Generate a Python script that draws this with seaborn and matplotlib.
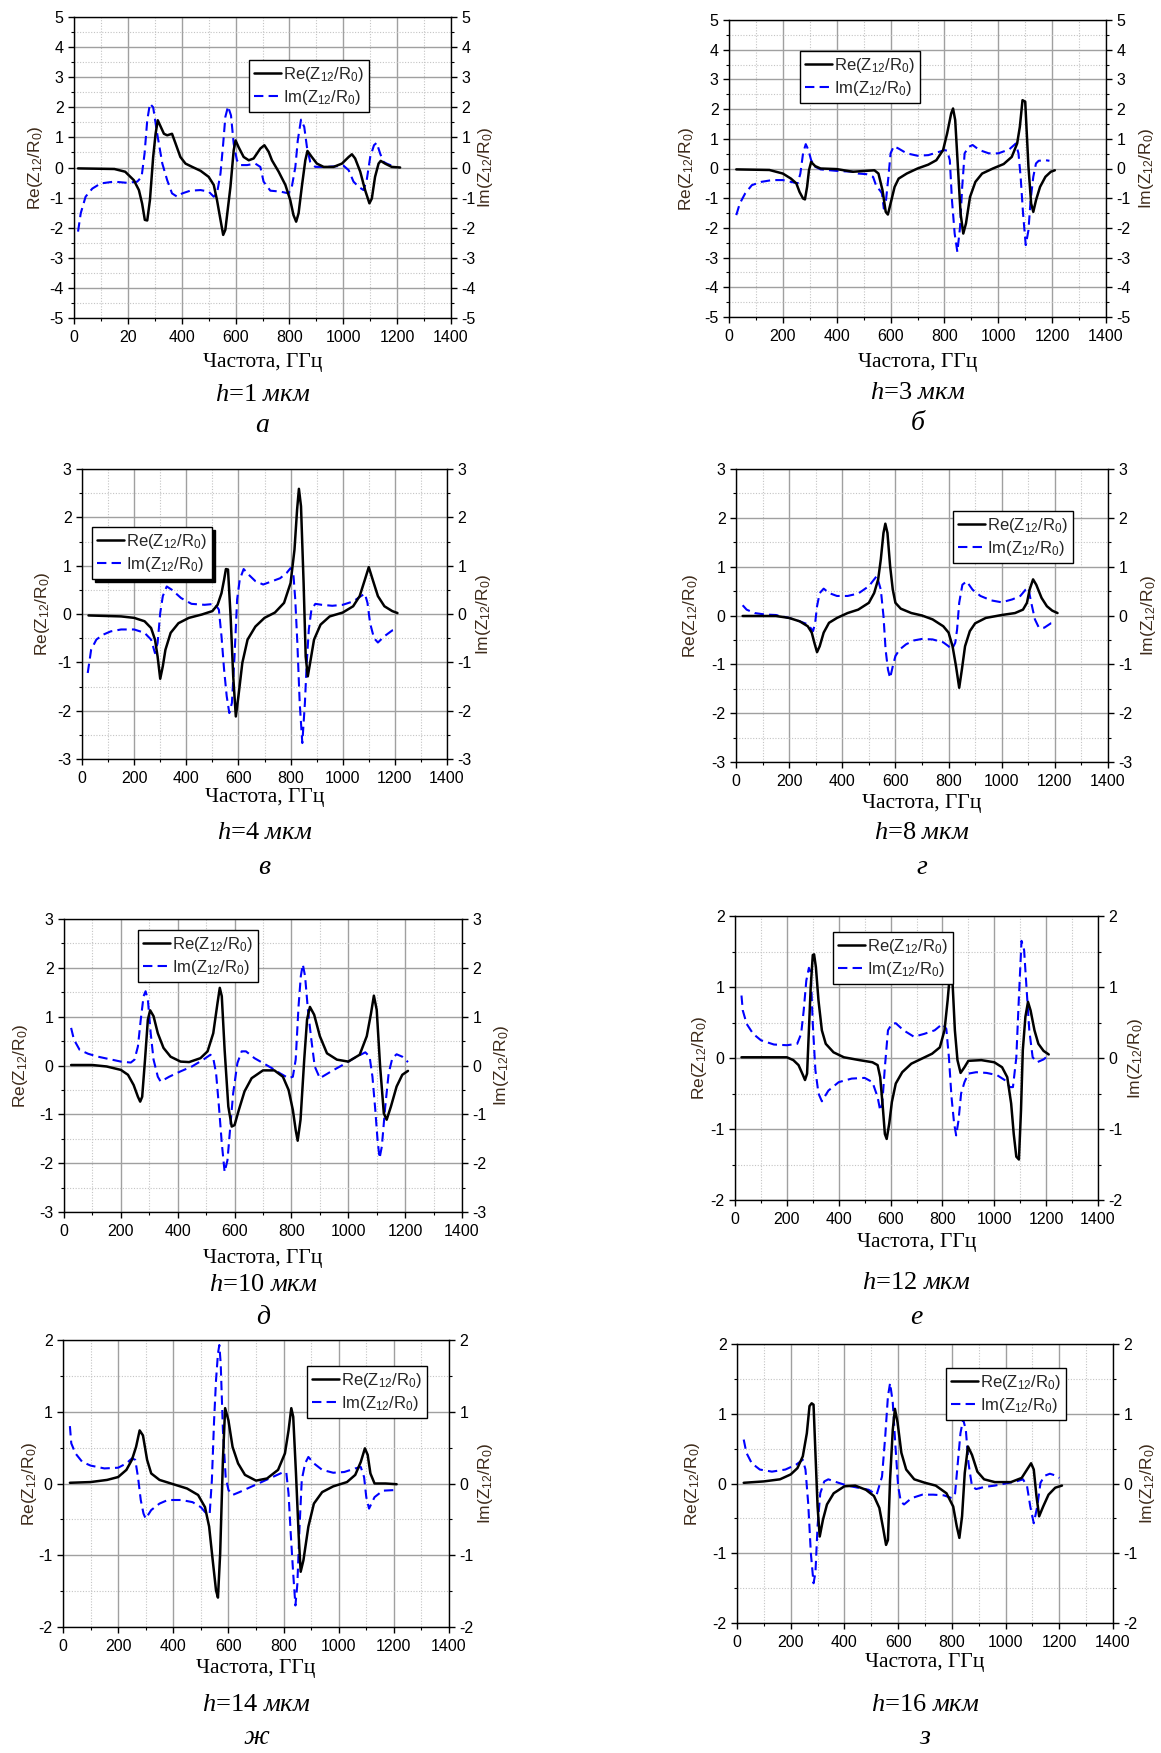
import numpy as np
import pandas as pd
import matplotlib
matplotlib.use("Agg")
import matplotlib.pyplot as plt
import seaborn as sns
from matplotlib.ticker import MultipleLocator

# ---------------- data ----------------
# panel а, h=1
a_re_f = [15, 150, 190, 222, 241, 253, 263, 272, 282, 294,
          303, 311, 334, 346, 364, 377, 395, 414, 439, 470,
          500, 519, 531, 544, 554, 562, 581, 593, 600, 611,
          630, 649, 667, 692, 707, 723, 735, 760, 785, 803,
          815, 825, 834, 846, 859, 867, 883, 902, 927, 964,
          995, 1020, 1032, 1044, 1063, 1081, 1097, 1106, 1118, 1131,
          1139, 1155, 1180, 1211]
a_re = [-0.03, -0.05, -0.14, -0.42, -0.75, -1.2, -1.74, -1.76, -1.08, 0.35,
        1.12, 1.57, 1.12, 1.07, 1.12, 0.8, 0.35, 0.13, 0.02, -0.11,
        -0.31, -0.58, -1.08, -1.74, -2.24, -2.07, -0.64, 0.57, 0.9, 0.68,
        0.35, 0.24, 0.3, 0.63, 0.74, 0.52, 0.24, -0.14, -0.58, -1.08,
        -1.58, -1.8, -1.52, -0.64, 0.24, 0.55, 0.35, 0.13, 0.02, 0.02,
        0.13, 0.35, 0.44, 0.3, -0.14, -0.75, -1.19, -1.03, -0.31, 0.13,
        0.22, 0.13, 0.02, 0.0]
a_im_f = [15, 25, 43, 68, 99, 148, 198, 235, 251, 262,
          272, 282, 294, 309, 328, 346, 364, 383, 402, 432,
          470, 500, 519, 531, 544, 554, 562, 572, 583, 593,
          605, 618, 643, 673, 692, 704, 729, 766, 797, 809,
          822, 831, 843, 855, 865, 877, 896, 939, 1001, 1020,
          1038, 1057, 1075, 1087, 1100, 1114, 1124, 1137, 1149, 1161,
          1180]
a_im = [-2.13, -1.52, -0.97, -0.7, -0.53, -0.47, -0.51, -0.47, -0.31, 0.46,
        1.57, 2.12, 2.0, 1.12, 0.13, -0.42, -0.86, -0.97, -0.86, -0.77,
        -0.75, -0.8, -0.97, -0.86, -0.2, 0.79, 1.68, 2.03, 1.73, 0.79,
        0.24, 0.08, 0.08, 0.13, 0.02, -0.47, -0.77, -0.8, -0.86, -0.64,
        0.02, 0.9, 1.59, 1.35, 0.68, 0.19, 0.02, 0.02, 0.06, -0.09,
        -0.47, -0.64, -0.75, -0.42, 0.35, 0.74, 0.82, 0.46, 0.19, 0.13,
        0.06]

# panel б, h=3
b_re_f = [27, 150, 200, 230, 250, 262, 275, 282, 290, 297,
          305, 320, 340, 400, 460, 540, 555, 570, 582, 590,
          600, 615, 630, 660, 700, 740, 770, 795, 810, 825,
          832, 840, 850, 860, 870, 880, 895, 915, 940, 980,
          1020, 1050, 1070, 1080, 1090, 1100, 1112, 1122, 1130, 1140,
          1155, 1175, 1195, 1210]
b_re = [-0.03, -0.05, -0.17, -0.34, -0.5, -0.79, -1.01, -1.04, -0.62, -0.06,
        0.22, 0.08, 0.0, -0.02, -0.11, -0.06, -0.17, -0.73, -1.46, -1.55,
        -1.18, -0.62, -0.34, -0.17, 0.0, 0.13, 0.28, 0.62, 1.18, 1.85,
        2.02, 1.63, 0.06, -1.52, -2.19, -1.85, -0.96, -0.45, -0.17, 0.0,
        0.15, 0.39, 0.84, 1.4, 2.3, 2.25, 0.06, -1.18, -1.46, -1.07,
        -0.62, -0.28, -0.11, -0.06]
b_im_f = [27, 40, 60, 85, 120, 160, 200, 230, 255, 265,
          275, 285, 295, 305, 320, 340, 400, 460, 480, 510,
          535, 548, 560, 568, 575, 583, 592, 600, 612, 630,
          660, 700, 740, 780, 800, 810, 820, 828, 838, 848,
          858, 866, 875, 890, 905, 930, 965, 1000, 1040, 1065,
          1075, 1083, 1092, 1102, 1112, 1120, 1130, 1140, 1150, 1175,
          1190]
b_im = [-1.57, -1.18, -0.84, -0.56, -0.45, -0.39, -0.39, -0.45, -0.5, -0.17,
        0.51, 0.82, 0.62, 0.28, 0.06, -0.03, -0.08, -0.11, -0.17, -0.19,
        -0.28, -0.62, -0.73, -0.84, -1.35, -1.07, -0.28, 0.51, 0.75, 0.67,
        0.51, 0.43, 0.45, 0.56, 0.62, 0.6, 0.28, -1.07, -2.19, -2.81,
        -1.97, -0.62, 0.51, 0.73, 0.79, 0.62, 0.51, 0.51, 0.64, 0.84,
        0.51, -0.28, -1.52, -2.58, -2.08, -1.07, -0.28, 0.17, 0.26, 0.28,
        0.26]

# panel в, h=4
c_re_f = [25, 150, 200, 240, 265, 280, 290, 300, 310, 320,
          340, 370, 410, 460, 500, 520, 535, 545, 552, 560,
          570, 580, 590, 600, 615, 635, 665, 700, 740, 775,
          800, 815, 825, 832, 840, 850, 858, 866, 875, 890,
          915, 950, 1000, 1040, 1065, 1085, 1100, 1115, 1135, 1160,
          1190, 1210]
c_re = [-0.03, -0.05, -0.08, -0.15, -0.29, -0.53, -0.88, -1.34, -1.08, -0.74,
        -0.39, -0.19, -0.08, -0.01, 0.06, 0.19, 0.43, 0.71, 0.93, 0.92,
        -0.05, -1.29, -2.12, -1.7, -1.01, -0.53, -0.26, -0.08, 0.03, 0.23,
        0.64, 1.33, 2.16, 2.59, 2.23, 0.64, -0.88, -1.29, -1.01, -0.53,
        -0.22, -0.05, 0.03, 0.16, 0.37, 0.71, 0.97, 0.71, 0.37, 0.16,
        0.06, 0.02]
c_im_f = [22, 35, 55, 80, 110, 150, 200, 240, 265, 280,
          290, 300, 310, 325, 345, 380, 420, 470, 510, 525,
          535, 545, 555, 565, 575, 585, 595, 605, 620, 640,
          665, 695, 730, 760, 785, 800, 810, 818, 826, 835,
          845, 855, 862, 870, 880, 895, 920, 960, 1000, 1040,
          1070, 1085, 1095, 1105, 1120, 1135, 1160, 1190, 1210]
c_im = [-1.22, -0.74, -0.53, -0.43, -0.36, -0.32, -0.32, -0.39, -0.53, -0.81,
        -0.6, 0.02, 0.37, 0.57, 0.5, 0.33, 0.21, 0.19, 0.21, 0.09,
        -0.46, -1.15, -1.7, -2.05, -1.84, -0.88, 0.3, 0.71, 0.93, 0.81,
        0.68, 0.61, 0.68, 0.74, 0.85, 0.95, 0.88, 0.3, -0.6, -1.84,
        -2.67, -1.84, -1.01, -0.32, 0.09, 0.21, 0.19, 0.17, 0.19, 0.26,
        0.37, 0.42, 0.23, -0.19, -0.5, -0.59, -0.46, -0.34, -0.32]

# panel г, h=8
d_re_f = [25, 150, 200, 240, 270, 285, 295, 305, 315, 330,
          350, 380, 420, 460, 500, 520, 535, 545, 555, 562,
          570, 580, 590, 600, 620, 660, 700, 740, 780, 800,
          815, 828, 840, 850, 862, 880, 900, 940, 1000, 1050,
          1080, 1095, 1105, 1118, 1130, 1150, 1170, 1190, 1210]
d_re = [-0.01, -0.01, -0.05, -0.12, -0.22, -0.35, -0.56, -0.75, -0.63, -0.35,
        -0.15, -0.05, 0.05, 0.12, 0.26, 0.46, 0.74, 1.15, 1.69, 1.88,
        1.69, 1.01, 0.53, 0.26, 0.14, 0.05, 0.0, -0.08, -0.22, -0.35,
        -0.63, -1.04, -1.48, -1.11, -0.63, -0.32, -0.16, -0.05, 0.01, 0.05,
        0.12, 0.26, 0.53, 0.74, 0.63, 0.36, 0.19, 0.1, 0.05]
d_im_f = [25, 40, 70, 110, 150, 200, 240, 270, 290, 298,
          305, 315, 330, 350, 380, 420, 460, 500, 530, 545,
          555, 563, 572, 580, 590, 600, 615, 640, 670, 700,
          740, 780, 800, 812, 825, 832, 840, 852, 868, 890,
          920, 960, 1000, 1040, 1070, 1090, 1100, 1110, 1125, 1140,
          1160, 1185, 1200]
d_im = [0.21, 0.12, 0.05, 0.02, 0.01, -0.05, -0.12, -0.18, -0.32, -0.15,
        0.19, 0.46, 0.55, 0.46, 0.4, 0.4, 0.45, 0.6, 0.81, 0.53,
        -0.01, -0.7, -1.11, -1.28, -1.04, -0.83, -0.7, -0.59, -0.51, -0.48,
        -0.49, -0.55, -0.63, -0.7, -0.56, -0.29, 0.26, 0.63, 0.7, 0.53,
        0.4, 0.31, 0.27, 0.33, 0.4, 0.53, 0.57, 0.29, -0.08, -0.25,
        -0.25, -0.16, -0.15]

# panel д, h=10
e_re_f = [25, 100, 150, 200, 225, 245, 260, 268, 275, 285,
          295, 303, 315, 330, 350, 375, 410, 440, 480, 505,
          525, 540, 548, 555, 565, 578, 590, 600, 615, 635,
          660, 700, 740, 770, 790, 805, 815, 822, 832, 845,
          855, 865, 880, 900, 925, 960, 1000, 1040, 1065, 1080,
          1090, 1100, 1112, 1125, 1135, 1150, 1170, 1190, 1210]
e_re = [0.01, 0.01, -0.02, -0.09, -0.19, -0.4, -0.64, -0.74, -0.64, 0.12,
        0.94, 1.13, 1.01, 0.66, 0.36, 0.18, 0.08, 0.07, 0.15, 0.29,
        0.66, 1.28, 1.59, 1.42, 0.32, -0.84, -1.25, -1.22, -0.91, -0.53,
        -0.26, -0.1, -0.1, -0.23, -0.5, -0.91, -1.32, -1.54, -1.11, 0.12,
        0.94, 1.2, 1.04, 0.6, 0.25, 0.12, 0.08, 0.22, 0.6, 1.07,
        1.43, 1.14, -0.02, -0.98, -1.11, -0.84, -0.43, -0.19, -0.11]
e_im_f = [25, 35, 55, 85, 120, 160, 200, 235, 248, 260,
          270, 280, 287, 295, 305, 315, 330, 340, 370, 410,
          450, 490, 515, 525, 535, 545, 555, 565, 575, 585,
          595, 610, 625, 640, 670, 700, 730, 760, 790, 805,
          815, 825, 833, 840, 848, 858, 870, 882, 900, 940,
          980, 1020, 1060, 1075, 1085, 1095, 1103, 1110, 1118, 1130,
          1142, 1155, 1170, 1190, 1210]
e_im = [0.77, 0.53, 0.32, 0.24, 0.18, 0.13, 0.08, 0.06, 0.12, 0.39,
        0.94, 1.42, 1.52, 1.35, 0.66, 0.12, -0.23, -0.33, -0.23, -0.12,
        -0.02, 0.12, 0.22, 0.15, -0.16, -0.84, -1.59, -2.18, -1.94, -1.25,
        -0.57, 0.05, 0.29, 0.29, 0.15, 0.05, -0.05, -0.16, -0.26, -0.23,
        0.12, 1.21, 1.83, 2.07, 1.83, 1.14, 0.53, -0.02, -0.26, -0.12,
        0.01, 0.15, 0.27, 0.18, -0.23, -0.91, -1.53, -1.9, -1.66, -0.84,
        -0.16, 0.15, 0.23, 0.18, 0.07]

# panel е, h=12
f_re_f = [25, 200, 225, 245, 262, 270, 278, 285, 292, 300,
          305, 312, 322, 335, 350, 380, 420, 480, 530, 550,
          560, 570, 578, 585, 595, 605, 620, 645, 680, 720,
          760, 790, 808, 820, 830, 838, 848, 858, 870, 885,
          900, 950, 1000, 1030, 1050, 1065, 1075, 1085, 1095, 1103,
          1110, 1120, 1130, 1140, 1155, 1170, 1190, 1210]
f_re = [0.01, 0.01, -0.03, -0.1, -0.24, -0.31, -0.22, 0.39, 1.0, 1.45,
        1.46, 1.28, 0.81, 0.39, 0.2, 0.08, 0.01, -0.03, -0.06, -0.1,
        -0.27, -0.69, -1.07, -1.14, -0.92, -0.62, -0.36, -0.2, -0.08, -0.01,
        0.06, 0.15, 0.39, 0.81, 1.23, 1.14, 0.39, -0.03, -0.21, -0.13,
        -0.04, -0.03, -0.06, -0.13, -0.27, -0.64, -1.07, -1.39, -1.43, -0.74,
        0.11, 0.58, 0.79, 0.67, 0.39, 0.2, 0.1, 0.05]
f_im_f = [25, 30, 45, 70, 100, 150, 200, 240, 255, 265,
          275, 285, 292, 300, 310, 322, 335, 360, 400, 450,
          500, 530, 550, 560, 568, 578, 590, 605, 620, 650,
          690, 730, 770, 800, 815, 825, 835, 845, 853, 862,
          872, 885, 900, 930, 970, 1010, 1040, 1060, 1072, 1085,
          1095, 1105, 1115, 1125, 1135, 1148, 1165, 1190, 1210]
f_im = [0.88, 0.67, 0.48, 0.34, 0.25, 0.19, 0.18, 0.2, 0.34, 0.67,
        1.09, 1.27, 1.21, 0.48, -0.17, -0.5, -0.61, -0.46, -0.34, -0.29,
        -0.28, -0.34, -0.55, -0.74, -0.64, -0.13, 0.39, 0.48, 0.49, 0.39,
        0.3, 0.34, 0.39, 0.48, 0.41, 0.01, -0.55, -0.92, -1.09, -0.88,
        -0.5, -0.34, -0.22, -0.2, -0.21, -0.24, -0.31, -0.41, -0.41, 0.01,
        0.86, 1.65, 1.52, 0.95, 0.39, 0.01, -0.06, -0.02, 0.04]

# panel ж, h=14
g_re_f = [25, 100, 160, 200, 230, 250, 265, 278, 290, 305,
          320, 350, 400, 450, 490, 515, 530, 543, 555, 562,
          570, 580, 588, 600, 615, 635, 660, 700, 740, 780,
          805, 818, 828, 835, 845, 855, 862, 872, 890, 910,
          940, 980, 1030, 1060, 1080, 1095, 1105, 1115, 1130, 1170,
          1210]
g_re = [0.01, 0.02, 0.05, 0.09, 0.19, 0.33, 0.51, 0.74, 0.67, 0.33,
        0.14, 0.05, -0.01, -0.07, -0.16, -0.33, -0.6, -1.07, -1.49, -1.59,
        -0.98, 0.33, 1.05, 0.88, 0.51, 0.28, 0.12, 0.04, 0.07, 0.19,
        0.42, 0.74, 1.05, 0.93, 0.14, -0.74, -1.23, -1.07, -0.6, -0.28,
        -0.12, -0.04, 0.02, 0.12, 0.3, 0.49, 0.4, 0.14, 0.0, 0.0,
        -0.01]
g_im_f = [25, 30, 45, 70, 100, 150, 200, 230, 250, 262,
          272, 282, 292, 300, 320, 350, 380, 430, 470, 500,
          520, 532, 540, 548, 555, 562, 567, 572, 580, 590,
          600, 615, 640, 680, 720, 760, 800, 810, 818, 826,
          835, 843, 850, 858, 866, 878, 890, 910, 940, 980,
          1020, 1060, 1080, 1092, 1100, 1110, 1130, 1160, 1210]
g_im = [0.8, 0.56, 0.42, 0.3, 0.25, 0.21, 0.22, 0.28, 0.35, 0.33,
        0.09, -0.23, -0.42, -0.49, -0.37, -0.28, -0.23, -0.23, -0.26, -0.33,
        -0.42, -0.42, 0.05, 0.88, 1.44, 1.81, 1.93, 1.67, 0.74, 0.09,
        -0.09, -0.16, -0.12, -0.05, 0.02, 0.09, 0.16, 0.15, -0.14, -0.7,
        -1.26, -1.7, -1.4, -0.6, 0.05, 0.28, 0.37, 0.28, 0.19, 0.15,
        0.16, 0.21, 0.23, 0.09, -0.19, -0.35, -0.19, -0.1, -0.09]

# panel з, h=16
h_re_f = [25, 100, 160, 200, 225, 245, 260, 270, 278, 285,
          292, 300, 308, 320, 335, 360, 400, 440, 480, 510,
          530, 545, 555, 562, 570, 580, 588, 598, 612, 630,
          660, 700, 740, 780, 805, 818, 828, 838, 848, 860,
          875, 895, 920, 960, 1020, 1060, 1080, 1095, 1105, 1115,
          1125, 1140, 1160, 1185, 1210]
h_re = [0.01, 0.03, 0.06, 0.13, 0.22, 0.39, 0.72, 1.11, 1.15, 1.13,
        0.44, -0.33, -0.76, -0.52, -0.3, -0.14, -0.04, -0.03, -0.09, -0.18,
        -0.35, -0.66, -0.88, -0.81, 0.06, 0.77, 1.07, 0.87, 0.44, 0.2,
        0.06, 0.01, -0.03, -0.14, -0.33, -0.61, -0.78, -0.47, 0.15, 0.53,
        0.41, 0.17, 0.06, 0.02, 0.02, 0.08, 0.2, 0.29, 0.2, -0.18,
        -0.47, -0.33, -0.16, -0.06, -0.03]
h_im_f = [25, 35, 55, 85, 130, 180, 220, 245, 255, 265,
          275, 285, 292, 300, 310, 325, 340, 370, 410, 450,
          490, 520, 540, 552, 562, 570, 580, 590, 600, 610,
          622, 650, 690, 730, 770, 800, 812, 822, 832, 842,
          852, 862, 875, 890, 920, 960, 1000, 1040, 1065, 1080,
          1092, 1105, 1118, 1130, 1145, 1165, 1190, 1200]
h_im = [0.63, 0.44, 0.29, 0.2, 0.17, 0.2, 0.27, 0.34, 0.2, -0.28,
        -1.0, -1.43, -1.28, -0.61, -0.14, 0.03, 0.06, 0.02, -0.03, -0.06,
        -0.09, -0.16, 0.1, 0.68, 1.25, 1.44, 1.16, 0.53, -0.04, -0.26,
        -0.3, -0.21, -0.16, -0.16, -0.17, -0.21, -0.14, 0.29, 0.72, 0.92,
        0.77, 0.29, -0.04, -0.08, -0.05, -0.03, 0.0, 0.03, 0.06, -0.04,
        -0.33, -0.57, -0.33, 0.01, 0.11, 0.14, 0.11, 0.08]

# tick labels / texts
x_ticks = [0, 200, 400, 600, 800, 1000, 1200, 1400]
x_labels_a = ["0", "20", "400", "600", "800", "1000", "1200", "1400"]
x_labels = ["0", "200", "400", "600", "800", "1000", "1200", "1400"]
h_values = ["1", "3", "4", "8", "10", "12", "14", "16"]
sub_letters = ["а", "б", "в", "г", "д", "е", "ж", "з"]
x_title = "Частота, ГГц"
lab_re = r"Re(Z$_{12}$/R$_0$)"
lab_im = r"Im(Z$_{12}$/R$_0$)"

# ---------------- style ----------------
sns.set_theme(style="ticks")
plt.rcParams['font.family'] = ['Liberation Sans', 'DejaVu Sans']
plt.rcParams['mathtext.fontset'] = 'custom'
plt.rcParams['mathtext.rm'] = 'Liberation Sans'
plt.rcParams['mathtext.it'] = 'Liberation Serif:italic'
plt.rcParams['mathtext.bf'] = 'Liberation Sans:bold'
plt.rcParams['axes.unicode_minus'] = False

W, H = 1161, 1753
fig = plt.figure(figsize=(W / 100, H / 100), dpi=100)
fig.patch.set_facecolor('white')


def fx(x):
    return x / W


def fy(y):
    return 1 - y / H


LABEL_COLOR = '#3d2a1a'
TICK_SIZE = 11.5

# layout in pixels: (left, right, top, bottom), legend (x, y), ylabel centres,
# xlabel y, caption y, letter y
layout = [
    dict(box=(74, 451, 17, 318), leg=(249, 60), yl=37, yr=484, xt=362, cap=395, let=425),
    dict(box=(729, 1106, 20, 317), leg=(800, 51), yl=688, yr=1145, xt=362, cap=393, let=423),
    dict(box=(82, 447, 469, 759), leg=(92, 527), yl=44, yr=482, xt=798, cap=833, let=868),
    dict(box=(736, 1108, 469, 762), leg=(953, 511), yl=692, yr=1147, xt=803, cap=833, let=868),
    dict(box=(64, 462, 919, 1212), leg=(138, 930), yl=22, yr=500, xt=1258, cap=1285, let=1318),
    dict(box=(735, 1098, 916, 1200), leg=(833, 932), yl=701, yr=1134, xt=1243, cap=1283, let=1318),
    dict(box=(63, 449, 1340, 1627), leg=(307, 1366), yl=31, yr=484, xt=1668, cap=1705, let=1738),
    dict(box=(737, 1113, 1344, 1623), leg=(946, 1368), yl=694, yr=1146, xt=1662, cap=1705, let=1738),
]

series = [
    (a_re_f, a_re, a_im_f, a_im, (-5, 5), x_labels_a),
    (b_re_f, b_re, b_im_f, b_im, (-5, 5), x_labels),
    (c_re_f, c_re, c_im_f, c_im, (-3, 3), x_labels),
    (d_re_f, d_re, d_im_f, d_im, (-3, 3), x_labels),
    (e_re_f, e_re, e_im_f, e_im, (-3, 3), x_labels),
    (f_re_f, f_re, f_im_f, f_im, (-2, 2), x_labels),
    (g_re_f, g_re, g_im_f, g_im, (-2, 2), x_labels),
    (h_re_f, h_re, h_im_f, h_im, (-2, 2), x_labels),
]

for i, (lay, ser) in enumerate(zip(layout, series)):
    fre, vre, fim, vim, ylim, xl = ser
    l, r, t, b = lay['box']
    w, h = r - l, b - t
    ax = fig.add_axes([fx(l), fy(b), w / W, h / H])
    df_re = pd.DataFrame({"f": fre, "v": vre})
    df_im = pd.DataFrame({"f": fim, "v": vim})
    sns.lineplot(data=df_re, x="f", y="v", ax=ax, color='black', linewidth=1.8,
                 label=lab_re, zorder=4)
    sns.lineplot(data=df_im, x="f", y="v", ax=ax, color='#0000ff', linewidth=1.5,
                 linestyle=(0, (4.5, 2.5)), label=lab_im, zorder=3)
    ax.set_xlim(0, 1400)
    ax.set_ylim(*ylim)
    ax.set_xticks(x_ticks)
    ax.set_xticklabels(xl)
    ax.xaxis.set_minor_locator(MultipleLocator(100))
    ax.yaxis.set_major_locator(MultipleLocator(1))
    ax.yaxis.set_minor_locator(MultipleLocator(0.5))
    ax.grid(which='major', color='#a0a0a0', linewidth=1.0, linestyle='-')
    ax.grid(which='minor', color='#c4c4c4', linewidth=0.8, linestyle=(0, (1, 1.5)))
    ax.set_axisbelow(True)
    ax.tick_params(which='major', direction='out', length=4.5, width=1, colors='black',
                   labelsize=TICK_SIZE, pad=3)
    ax.tick_params(which='minor', direction='out', length=2.5, width=0.8, colors='black')
    ax.tick_params(axis='x', pad=4)
    for s in ax.spines.values():
        s.set_color('black')
        s.set_linewidth(1.0)
    ax.set_xlabel("")
    ax.set_ylabel(lab_re, fontsize=12.5, color=LABEL_COLOR)
    ax.yaxis.set_label_coords((lay['yl'] + 8 - l) / w, 0.5)

    ax2 = ax.twinx()
    ax2.set_ylim(*ylim)
    ax2.yaxis.set_major_locator(MultipleLocator(1))
    ax2.yaxis.set_minor_locator(MultipleLocator(0.5))
    ax2.tick_params(which='major', direction='out', length=4.5, width=1, colors='black',
                    labelsize=TICK_SIZE, pad=3)
    ax2.tick_params(which='minor', direction='out', length=2.5, width=0.8, colors='black')
    ax2.set_ylabel(lab_im, fontsize=12.5, color=LABEL_COLOR)
    ax2.yaxis.set_label_coords((lay['yr'] - 8 - l) / w, 0.5)
    for s in ax2.spines.values():
        s.set_visible(False)

    lx, ly = lay['leg']
    leg = ax.legend(loc='upper left', bbox_to_anchor=(fx(lx), fy(ly)),
                    bbox_transform=fig.transFigure, borderaxespad=0,
                    fontsize=12, handlelength=1.6, handletextpad=0.15,
                    borderpad=0.3, labelspacing=0.25, fancybox=False,
                    framealpha=1, edgecolor='black',
                    shadow=({'color': 'black', 'alpha': 1.0} if i == 2 else False))
    leg.get_frame().set_linewidth(1.0)
    leg.set_zorder(10)

    cx = (l + r) / 2
    fig.text(fx(cx), fy(lay['xt']), x_title, family='Liberation Serif',
             fontsize=15.5, ha='center', va='center', color='black')
    fig.text(fx(cx), fy(lay['cap']), "$h$=" + h_values[i] + " $мкм$",
             family='Liberation Serif', fontsize=19, ha='center', va='center',
             color='black')
    fig.text(fx(cx), fy(lay['let']), sub_letters[i], family='Liberation Serif',
             style='italic', fontsize=20, ha='center', va='center', color='black')

fig.savefig("out.png", dpi=100, facecolor='white')
